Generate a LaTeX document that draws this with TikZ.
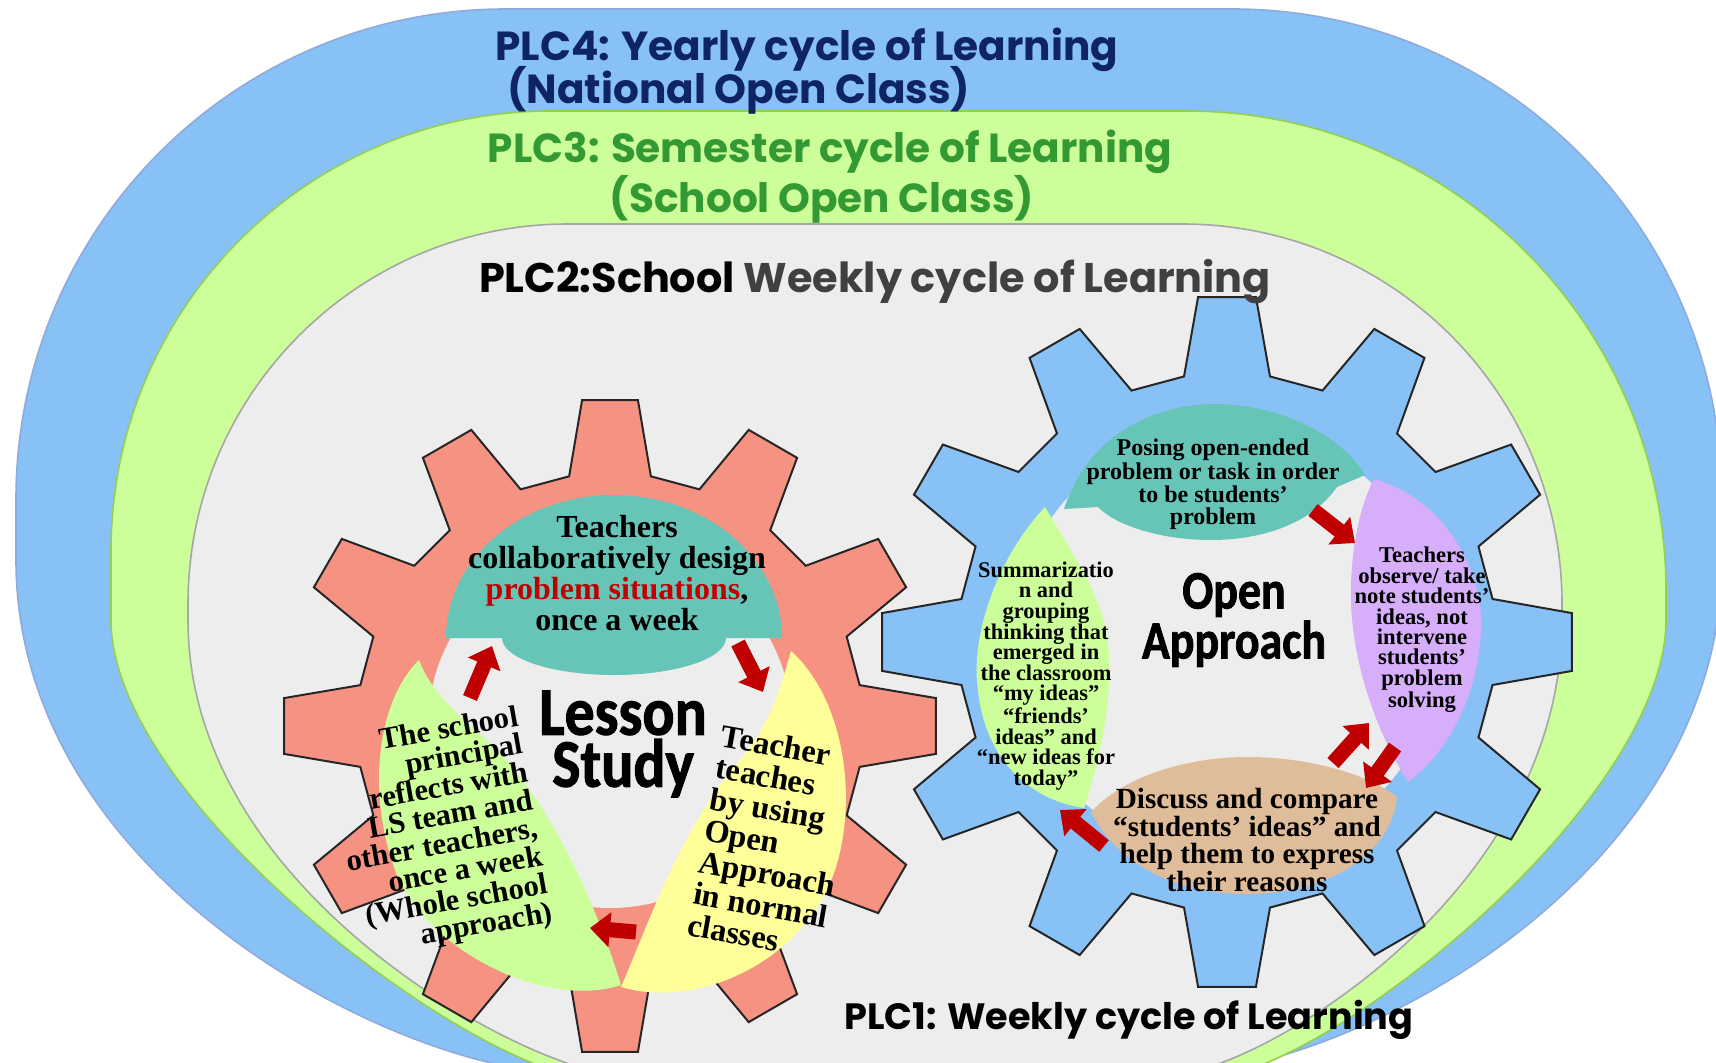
\documentclass[tikz,border=0pt]{standalone}
\usepackage{fontspec}
\newfontfamily\titlefont{Poppins}
\newfontfamily\gearfont{Carlito}[BoldFeatures={FakeBold=1.6}]
\newfontfamily\bubfont{Liberation Serif}
\usetikzlibrary{arrows.meta}
\definecolor{plcblue}{HTML}{88C1F5}
\definecolor{plcbluedraw}{HTML}{8FAADC}
\definecolor{plcgreen}{HTML}{CCFF99}
\definecolor{plcgreendraw}{HTML}{92D050}
\definecolor{plcgray}{HTML}{EDEDED}
\definecolor{plcgraydraw}{HTML}{A6A6A6}
\definecolor{plcnavy}{HTML}{0E2463}
\definecolor{plcdkgreen}{HTML}{339933}
\definecolor{plcdark}{HTML}{404040}
\definecolor{lssalmon}{HTML}{F69282}
\definecolor{bubteal}{HTML}{67C5B8}
\definecolor{bubyellow}{HTML}{FFFF99}
\definecolor{bubpurple}{HTML}{D6AEFA}
\definecolor{bubtan}{HTML}{DFBD9A}
\definecolor{arrowred}{HTML}{C00000}
\begin{document}
\begin{tikzpicture}[x=0.5pt,y=-0.5pt,
		gearline/.style={draw=black!85,line width=1pt},
		bigarrow/.style={draw=arrowred,line width=7.5pt,-{Triangle[length=10pt,width=17pt]}},
		plctitle/.style={font=\titlefont\bfseries\fontsize{20.3}{21}\selectfont,inner sep=0pt},
		bubtext/.style={align=center,inner sep=0pt},
		bigtitle/.style={align=center,inner sep=0pt}]
	\useasboundingbox (0,0) rectangle (1716,1063);
	\clip (0,0) rectangle (1716,1063);
	\draw[fill=plcblue,draw=plcbluedraw,line width=0.8pt] (16,499) arc[start angle=180,end angle=270,radius=490] -- (1232,9) arc[start angle=270,end angle=360,radius=490] -- (1722,560) .. controls (1722,880) and (1346,1075) .. (1166,1075) -- (580,1075) .. controls (400,1075) and (16,880) .. (16,560) -- cycle;
	\draw[fill=plcgreen,draw=plcgreendraw,line width=0.8pt] (111,551) arc[start angle=180,end angle=270,radius=440] -- (1186,111) arc[start angle=270,end angle=360,radius=480] -- (1666,620) .. controls (1666,804) and (1320,1080) .. (1200,1080) -- (600,1080) .. controls (480,1080) and (111,804) .. (111,620) -- cycle;
	\draw[fill=plcgray,draw=plcgraydraw,line width=0.8pt] (188,604) arc[start angle=180,end angle=270,radius=380] -- (1182,224) arc[start angle=270,end angle=360,radius=380] -- (1562,620) .. controls (1562,900) and (1250,1075) .. (1170,1075) -- (620,1075) .. controls (540,1075) and (188,900) .. (188,620) -- cycle;
	\node[plctitle,text=plcnavy,anchor=base west] (plcfour) at (495,61) {PLC4: Yearly cycle of Learning};
	\node[plctitle,text=plcnavy,anchor=base west] (plcfourb) at (507,104) {(National Open Class)};
	\node[plctitle,text=plcdkgreen,anchor=base] (plcthree) at (830,163) {PLC3: Semester cycle of Learning};
	\node[plctitle,text=plcdkgreen,anchor=base] (plcthreeb) at (822,213) {(School Open Class)};
	\begin{scope}[shift={(610,726)}]
		\draw[gearline,fill=lssalmon] (80.7:253) \foreach \a in {90,120,...,420}{ -- (\a-9.3:253) -- (\a-4.9:327) -- (\a+4.9:327) -- (\a+9.3:253)} -- cycle;
		\fill[plcgray] (0,0) circle[radius=182];
	\end{scope}
	\begin{scope}[shift={(1227,642)}]
		\draw[gearline,fill=plcblue] (80.8:269) \foreach \a in {90,120,...,420}{ -- (\a-9.2:269) -- (\a-4.8:346) -- (\a+4.8:346) -- (\a+9.2:269)} -- cycle;
		\fill[plcgray] (0,0) circle[radius=215];
	\end{scope}
	\fill[bubteal] (446,638) arc[start angle=180,end angle=360,x radius=168,y radius=143] -- (726,638) arc[start angle=0,end angle=180,x radius=112,y radius=37] -- cycle;
	\fill[plcgreen] (419,660) .. controls (378,700) and (366,790) .. (395,870) .. controls (425,950) and (545,1010) .. (621,985) .. controls (595,900) and (545,790) .. (482,736) .. controls (455,712) and (430,690) .. (419,660) -- cycle;
	\fill[bubyellow] (791,651) .. controls (845,700) and (858,800) .. (835,870) .. controls (805,960) and (700,1010) .. (621,987) .. controls (650,920) and (680,830) .. (740,760) .. controls (770,725) and (780,690) .. (791,651) -- cycle;
	\fill[bubteal] (1064,509) .. controls (1090,430) and (1160,404) .. (1215,404) .. controls (1285,404) and (1345,440) .. (1365,475) -- (1337,487) .. controls (1310,525) and (1260,540) .. (1211,540) .. controls (1160,540) and (1115,525) .. (1098,507) -- cycle;
	\fill[bubpurple] (1374,479) .. controls (1450,500) and (1485,580) .. (1481,630) .. controls (1478,700) and (1445,755) .. (1408,782) .. controls (1375,730) and (1352,660) .. (1351,600) .. controls (1350,550) and (1360,505) .. (1374,479) -- cycle;
	\fill[bubtan] (1091,812) .. controls (1130,770) and (1200,757) .. (1247,757) .. controls (1310,757) and (1370,775) .. (1397,797) .. controls (1390,860) and (1320,894) .. (1247,894) .. controls (1170,894) and (1115,860) .. (1091,812) -- cycle;
	\fill[plcgreen] (1045,507) .. controls (995,560) and (970,640) .. (978,690) .. controls (985,760) and (1030,800) .. (1084,808) .. controls (1100,760) and (1118,680) .. (1105,627) .. controls (1098,590) and (1070,550) .. (1045,507) -- cycle;
	\coordinate (lsA0) at (470,698); \coordinate (lsA1) at (492,646);
	\coordinate (lsB0) at (738,643); \coordinate (lsB1) at (763,692);
	\coordinate (lsC0) at (636,932); \coordinate (lsC1) at (590,928);
	\coordinate (oaA0) at (1313,510); \coordinate (oaA1) at (1355,543);
	\coordinate (oaB0) at (1395,747); \coordinate (oaB1) at (1366,788);
	\coordinate (oaC0) at (1333,763); \coordinate (oaC1) at (1369,723);
	\coordinate (oaD0) at (1104,846); \coordinate (oaD1) at (1060,810);
	\foreach \s/\e in {lsA0/lsA1,lsB0/lsB1,lsC0/lsC1,oaA0/oaA1,oaB0/oaB1,oaC0/oaC1,oaD0/oaD1}
		\draw[bigarrow] (\s) -- (\e);
	\node[bubtext,font=\bubfont\bfseries\fontsize{16}{15.5}\selectfont] (lsdesign) at (617,573) {Teachers\\collaboratively design\\\textcolor{arrowred}{problem situations},\\once a week};
	\node[bubtext,align=right,rotate=10,font=\bubfont\bfseries\fontsize{15.3}{14.2}\selectfont] (lsreflect) at (440,833) {The school\\principal\\reflects with\\LS team and\\other teachers,\\once a week\\(Whole school\\approach)};
	\node[bubtext,align=left,rotate=-10,font=\bubfont\bfseries\fontsize{16.2}{16}\selectfont] (lsteach) at (773,842) {Teacher\\teaches\\by using\\Open\\Approach\\in normal\\classes};
	\node[bigtitle,xscale=0.88,font=\gearfont\bfseries\fontsize{34}{26}\selectfont] (lesson) at (623,744) {Lesson\\Study};
	\node[bigtitle,xscale=0.85,font=\gearfont\bfseries\fontsize{27}{25}\selectfont] (openapp) at (1234,620) {Open\\Approach};
	\node[bubtext,font=\bubfont\bfseries\fontsize{12}{10.8}\selectfont] (oaposing) at (1213,484) {Posing open-ended\\problem or task in order\\to be students’\\problem};
	\node[bubtext,font=\bubfont\bfseries\fontsize{11.3}{10.2}\selectfont] (oaobserve) at (1422,630) {Teachers\\observe/ take\\note students’\\ideas, not\\intervene\\students’\\problem\\solving};
	\node[bubtext,font=\bubfont\bfseries\fontsize{14.6}{13.8}\selectfont] (oadiscuss) at (1247,840) {Discuss and compare\\“students’ ideas” and\\help them to express\\their reasons};
	\node[bubtext,font=\bubfont\bfseries\fontsize{11.2}{10.3}\selectfont] (oasummary) at (1046,676) {Summarizatio\\n and\\grouping\\thinking that\\emerged in\\the classroom\\“my ideas”\\“friends’\\ideas” and\\“new ideas for\\today”};
	\node[plctitle,anchor=base,font=\titlefont\bfseries\fontsize{20.7}{21}\selectfont] (plctwo) at (875,293) {PLC2:School \textcolor{plcdark}{Weekly cycle of Learning}};
	\node[plctitle,anchor=base,font=\titlefont\bfseries\fontsize{18.3}{19}\selectfont] (plcone) at (1129,1029) {PLC1: Weekly cycle of Learning};
\end{tikzpicture}
\end{document}
